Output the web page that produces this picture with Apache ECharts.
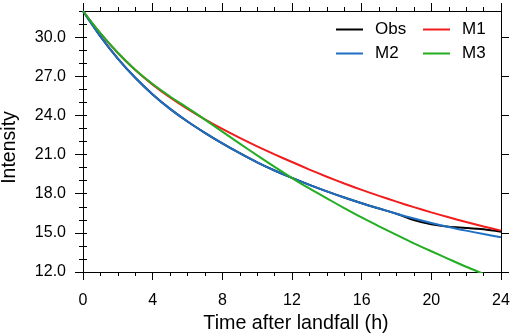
<!DOCTYPE html>
<html>
<head>
<meta charset="utf-8">
<script src="https://cdn.jsdelivr.net/npm/echarts@6/dist/echarts.min.js"></script>
<style>
  html, body { margin: 0; padding: 0; background: #fff; }
  #chart { width: 512px; height: 335px; }
</style>
</head>
<body>
<div id="chart"></div>
<script>
// hours after landfall
const hours = [0, 1, 2, 3, 4, 5, 6, 7, 8, 9, 10, 11, 12, 13, 14, 15, 16, 17, 18, 19, 20, 21, 22, 23, 24]
const obs = [32.0, 30.05, 28.35, 26.88, 25.61, 24.5, 23.53, 22.66, 21.85, 21.1, 20.4, 19.78, 19.21, 18.68, 18.18, 17.71, 17.27, 16.86, 16.46, 15.98, 15.65, 15.46, 15.38, 15.27, 15.08]
const m1 = [32.0, 30.28, 28.78, 27.48, 26.36, 25.38, 24.5, 23.7, 22.96, 22.27, 21.62, 21.01, 20.43, 19.85, 19.3, 18.78, 18.29, 17.83, 17.39, 16.97, 16.57, 16.19, 15.83, 15.49, 15.17]
const m2 = [32.0, 30.05, 28.35, 26.88, 25.61, 24.5, 23.53, 22.66, 21.85, 21.1, 20.4, 19.78, 19.21, 18.68, 18.18, 17.71, 17.27, 16.86, 16.47, 16.1, 15.76, 15.45, 15.17, 14.91, 14.67]
const m3 = [32.0, 30.3, 28.8, 27.5, 26.4, 25.45, 24.58, 23.68, 22.76, 21.84, 20.94, 20.06, 19.2, 18.4, 17.64, 16.9, 16.18, 15.5, 14.84, 14.2, 13.59, 12.99, 12.4, 11.85, 11.3]
const yTicks = [12, 15, 18, 21, 24, 27, 30]

const font = "'Liberation Sans', Arial, sans-serif"
const black = { color: '#000', width: 1 }

function pairs(vals) {
  return hours.map((h, i) => [h, vals[i]])
}

function xAx(pos, withLabel) {
  return {
    type: 'value',
    position: pos,
    min: 0,
    max: 24,
    interval: 4,
    axisLine: { show: true, onZero: false, lineStyle: black },
    axisTick: { show: true, length: 8, lineStyle: black },
    minorTick: { show: true, splitNumber: 4, length: 4, lineStyle: black },
    axisLabel: { show: withLabel, fontSize: 16, color: '#000', fontFamily: font, margin: 21 },
    splitLine: { show: false },
    minorSplitLine: { show: false }
  }
}

function yMajor(pos, withLabel) {
  return {
    type: 'value',
    position: pos,
    min: 12,
    max: 32,
    axisLine: { show: true, onZero: false, lineStyle: black },
    axisTick: { show: true, length: 8, customValues: yTicks, lineStyle: black },
    axisLabel: {
      show: withLabel,
      customValues: yTicks,
      formatter: v => v.toFixed(1),
      fontSize: 16,
      color: '#000',
      fontFamily: font,
      margin: 17
    },
    splitLine: { show: false }
  }
}

function yMinor(pos) {
  return {
    type: 'value',
    position: pos,
    min: 12,
    max: 32,
    interval: 1,
    axisLine: { show: false },
    axisTick: { show: true, length: 4, lineStyle: black },
    axisLabel: { show: false },
    splitLine: { show: false }
  }
}

function line(name, vals, color) {
  return {
    name: name,
    type: 'line',
    data: pairs(vals),
    smooth: 0.3,
    showSymbol: false,
    symbol: 'none',
    lineStyle: { color: color, width: 2 },
    itemStyle: { color: color }
  }
}

const chart = echarts.init(document.getElementById('chart'), null, { renderer: 'canvas' })
chart.setOption({
  animation: false,
  backgroundColor: '#fff',
  textStyle: { fontFamily: font },
  grid: { left: 83, right: 11, top: 11, bottom: 63, outerBoundsMode: 'none' },
  legend: {
    data: ['Obs', 'M1', 'M2', 'M3'],
    left: 336,
    top: 21,
    width: 170,
    padding: 0,
    itemGap: 7,
    itemWidth: 34,
    itemHeight: 13,
    icon: 'path://M0,0L27,0L27,2L0,2ZM34,0L34,2',
    textStyle: { fontSize: 17, color: '#000', fontFamily: font, width: 41, lineHeight: 13 }
  },
  xAxis: [
    Object.assign(xAx('bottom', true), {
      name: 'Time after landfall (h)',
      nameLocation: 'middle',
      nameGap: 40,
      nameTextStyle: { fontSize: 19.7, color: '#000', fontFamily: font, padding: [0, 0, 0, 8] }
    }),
    xAx('top', false)
  ],
  yAxis: [
    Object.assign(yMajor('left', true), {
      name: 'Intensity',
      nameLocation: 'middle',
      nameGap: 63,
      nameTextStyle: { fontSize: 19.5, color: '#000', fontFamily: font, padding: [0, 12, 0, 0] }
    }),
    yMinor('left'),
    yMajor('right', false),
    yMinor('right')
  ],
  series: [
    line('Obs', obs, '#000000'),
    line('M1', m1, '#f21c1c'),
    line('M2', m2, '#1f6fc4'),
    line('M3', m3, '#22ad22')
  ]
})
</script>
</body>
</html>
